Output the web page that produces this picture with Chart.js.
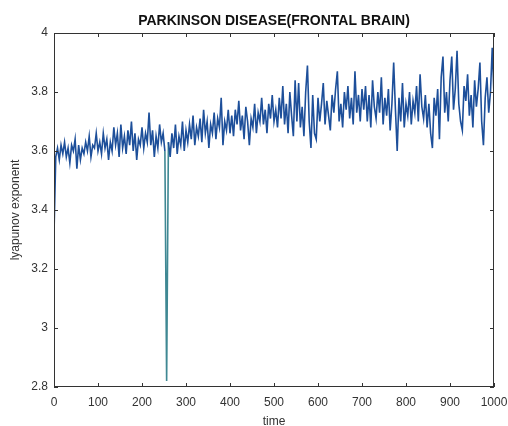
<!DOCTYPE html>
<html>
<head>
<meta charset="utf-8">
<script src="https://cdn.jsdelivr.net/npm/chart.js@4.4.0/dist/chart.umd.min.js"></script>
<style>
  html, body { margin: 0; padding: 0; background: #fff; }
  #wrap { width: 508px; height: 426px; }
</style>
</head>
<body>
<div id="wrap"><canvas id="chart" width="508" height="426"></canvas></div>
<script>
const chartTitle = 'PARKINSON DISEASE(FRONTAL BRAIN)';
const xTitle = 'time';
const yTitle = 'lyapunov exponent';
const xRange = [0, 1000];
const yRange = [2.8, 4];
const sampleStep = 4; // one reading every 4 time units

// lyapunov exponent (t = 0, 4, 8, ... 1000)
const exponent = [
  3.32,3.58,3.61,3.57,3.62,3.59,3.63,3.58,3.61,3.56,3.62,3.60,3.64,3.54,3.62,3.57,3.61,3.59,3.63,3.60,3.65,3.58,3.62,3.61,3.66,3.60,
  3.63,3.59,3.66,3.61,3.64,3.57,3.63,3.60,3.68,3.62,3.66,3.58,3.69,3.61,3.65,3.59,3.67,3.62,3.70,3.60,3.66,3.57,3.64,3.62,3.68,
  3.61,3.66,3.63,3.73,3.62,3.67,3.58,3.65,3.61,3.69,3.63,3.66,3.60,2.82,3.63,3.58,3.66,3.61,3.69,3.59,3.65,3.62,3.70,3.60,3.67,
  3.63,3.69,3.64,3.72,3.62,3.68,3.65,3.71,3.63,3.74,3.66,3.70,3.61,3.69,3.66,3.73,3.64,3.71,3.68,3.78,3.62,3.70,3.67,3.74,3.66,
  3.72,3.65,3.74,3.69,3.77,3.67,3.72,3.64,3.75,3.70,3.62,3.71,3.68,3.76,3.66,3.73,3.70,3.78,3.69,3.74,3.66,3.76,3.71,3.79,3.70,
  3.74,3.68,3.78,3.71,3.82,3.69,3.76,3.66,3.80,3.72,3.65,3.84,3.70,3.83,3.68,3.75,3.65,3.80,3.89,3.70,3.61,3.79,3.66,3.64,3.78,
  3.70,3.76,3.83,3.69,3.77,3.72,3.67,3.79,3.73,3.81,3.87,3.70,3.76,3.68,3.80,3.74,3.82,3.71,3.78,3.69,3.87,3.73,3.79,3.70,3.81,
  3.74,3.82,3.70,3.79,3.68,3.84,3.75,3.71,3.80,3.73,3.85,3.69,3.78,3.72,3.81,3.67,3.76,3.90,3.74,3.60,3.78,3.70,3.83,3.68,3.76,
  3.72,3.80,3.69,3.77,3.73,3.82,3.70,3.86,3.75,3.71,3.79,3.68,3.76,3.66,3.61,3.78,3.72,3.81,3.64,3.85,3.92,3.73,3.80,3.70,3.84,
  3.92,3.74,3.81,3.94,3.76,3.70,3.67,3.82,3.77,3.86,3.72,3.79,3.68,3.84,3.75,3.81,3.90,3.70,3.62,3.78,3.85,3.73,3.80,3.95,3.79
];

const axisFont = { family: 'Liberation Sans, Arial, sans-serif', size: 12 };
const ink = '#333';

// matlab style box with inward ticks on all four sides, plus the title
const boxFrame = {
  id: 'boxFrame',
  afterDraw(chart) {
    const { ctx, chartArea: a, scales } = chart;
    const len = 4;
    ctx.save();
    ctx.strokeStyle = ink;
    ctx.lineWidth = 1;
    ctx.strokeRect(a.left + 0.5, a.top + 0.5, a.right - a.left - 1, a.bottom - a.top - 1);
    ctx.beginPath();
    scales.x.ticks.forEach(t => {
      const px = Math.round(scales.x.getPixelForValue(t.value)) + 0.5;
      ctx.moveTo(px, a.bottom); ctx.lineTo(px, a.bottom - len);
      ctx.moveTo(px, a.top); ctx.lineTo(px, a.top + len);
    });
    scales.y.ticks.forEach(t => {
      const py = Math.round(scales.y.getPixelForValue(t.value)) + 0.5;
      ctx.moveTo(a.left, py); ctx.lineTo(a.left + len, py);
      ctx.moveTo(a.right, py); ctx.lineTo(a.right - len, py);
    });
    ctx.stroke();

    // title, squeezed a little like the original
    ctx.font = 'bold 14px Liberation Sans, Arial, sans-serif';
    ctx.fillStyle = '#111';
    ctx.textAlign = 'center';
    ctx.textBaseline = 'middle';
    const w = ctx.measureText(chartTitle).width;
    ctx.translate((a.left + a.right) / 2, 21);
    ctx.scale(Math.min(1, 296 / w), 1);
    ctx.fillText(chartTitle, 0, 0);
    ctx.restore();
  }
};

new Chart(document.getElementById('chart'), {
  type: 'line',
  data: {
    datasets: [{
      data: exponent.map((v, i) => ({ x: i * sampleStep, y: v })),
      borderColor: '#1d4f9a',
      borderWidth: 1.6,
      pointRadius: 0,
      tension: 0,
      // the deep dropout shows up greyish teal in the original
      segment: {
        borderColor: c => (c.p0.parsed.y < 3 || c.p1.parsed.y < 3) ? '#3f8893' : undefined
      }
    }]
  },
  options: {
    responsive: false,
    animation: false,
    layout: { padding: { top: 33, right: 14, left: 0, bottom: 0 } },
    plugins: { legend: { display: false }, tooltip: { enabled: false } },
    scales: {
      x: {
        type: 'linear',
        min: xRange[0],
        max: xRange[1],
        afterFit(s) { s.height = 39; s.paddingLeft = 0; s.paddingRight = 0; },
        grid: { display: false, drawTicks: false },
        border: { display: false },
        ticks: {
          stepSize: 100, padding: 8, autoSkip: false, maxRotation: 0, color: ink, font: axisFont,
          callback: v => String(v)
        },
        title: { display: true, text: xTitle, color: ink, font: axisFont, padding: { top: 0, bottom: -3 } }
      },
      y: {
        min: yRange[0],
        max: yRange[1],
        afterFit(s) { s.width = 54; s.paddingTop = 0; s.paddingBottom = 0; },
        grid: { display: false, drawTicks: false },
        border: { display: false },
        ticks: {
          stepSize: 0.2, padding: 6, color: ink, font: axisFont,
          callback: v => String(Number(v.toFixed(1)))
        },
        title: { display: true, text: yTitle, color: ink, font: axisFont, padding: { top: 8, bottom: 0 } }
      }
    }
  },
  plugins: [boxFrame]
});
</script>
</body>
</html>
